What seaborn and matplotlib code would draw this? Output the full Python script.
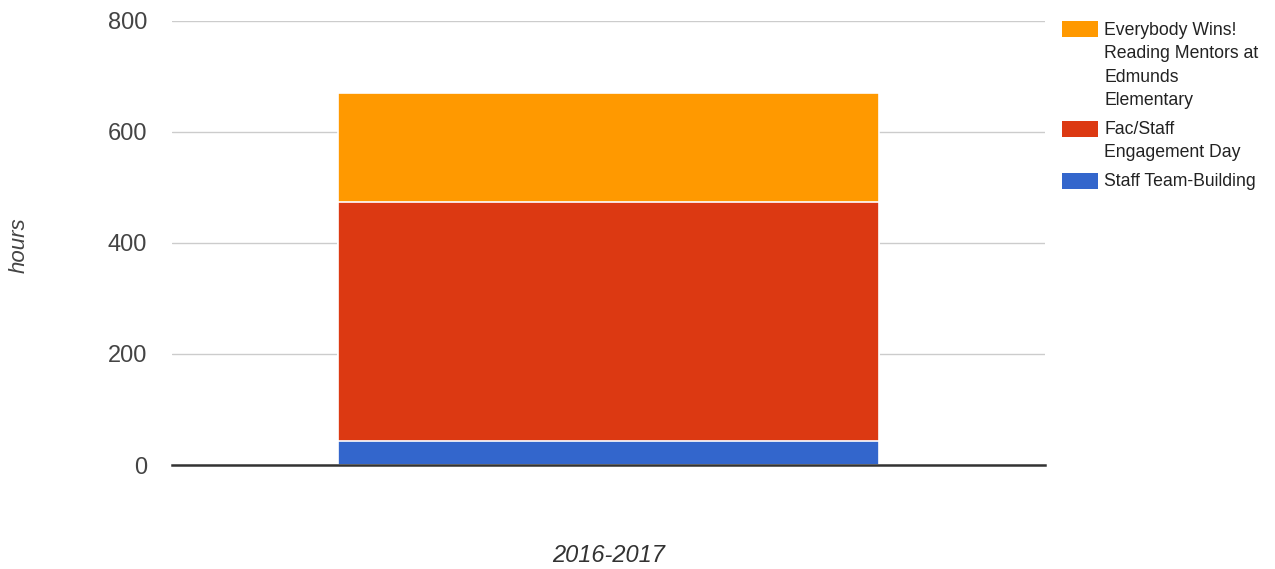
import matplotlib
matplotlib.use("Agg")
import matplotlib.pyplot as plt
from matplotlib.patches import Rectangle
import seaborn as sns
import pandas as pd
import numpy as np

# Volunteer hours by activity for one academic year
period = ["2016-2017"]
series = ["Staff Team-Building", "Fac/Staff Engagement Day",
          "Everybody Wins! Reading Mentors at Edmunds Elementary"]
hours = {
    "Staff Team-Building": [44],
    "Fac/Staff Engagement Day": [430],
    "Everybody Wins! Reading Mentors at Edmunds Elementary": [197],
}
colors = {
    "Staff Team-Building": "#3366CC",
    "Fac/Staff Engagement Day": "#DC3912",
    "Everybody Wins! Reading Mentors at Edmunds Elementary": "#FF9900",
}
legend_lines = {
    "Everybody Wins! Reading Mentors at Edmunds Elementary":
        ["Everybody Wins!", "Reading Mentors at", "Edmunds", "Elementary"],
    "Fac/Staff Engagement Day": ["Fac/Staff", "Engagement Day"],
    "Staff Team-Building": ["Staff Team-Building"],
}
y_ticks = [0, 200, 400, 600, 800]

sns.set_theme(style="white")
plt.rcParams["font.family"] = ["Liberation Sans", "DejaVu Sans"]

fig = plt.figure(figsize=(12.75, 5.69), dpi=100)
ax = fig.add_axes([172 / 1275, 1 - 465 / 569, (1045 - 172) / 1275, (465 - 21) / 569])

# Stacked bars: draw cumulative totals, tallest first
cum = np.cumsum([hours[s][0] for s in series])
for s, top in reversed(list(zip(series, cum))):
    df = pd.DataFrame({"period": period, "hours": [top]})
    sns.barplot(data=df, x="period", y="hours", color=colors[s], width=0.62,
                edgecolor="white", linewidth=1.2, saturation=1, ax=ax, zorder=3)

ax.set_ylim(0, 800)
ax.set_xlim(-0.5, 0.5)
ax.set_yticks(y_ticks)
ax.set_yticklabels([str(t) for t in y_ticks], fontsize=17, color="#444444")
ax.tick_params(axis="y", length=0, pad=18)
ax.set_xticks([])
ax.grid(axis="y", color="#cccccc", linewidth=1, zorder=0)
ax.set_axisbelow(True)
for side in ["left", "right", "top"]:
    ax.spines[side].set_visible(False)
ax.spines["bottom"].set_color("#333333")
ax.spines["bottom"].set_linewidth(1.8)
ax.spines["bottom"].set_zorder(5)

ax.set_ylabel("hours", fontsize=16, style="italic", color="#444444", labelpad=0)
ax.yaxis.set_label_coords((19 - 172) / 873, (465 - 245) / 444)
ax.yaxis.label.set_va("center")
ax.set_xlabel(period[0], fontsize=17, style="italic", color="#333333")
ax.xaxis.set_label_coords(0.5, -(555 - 465) / 444)
ax.xaxis.label.set_va("center")

# Legend drawn in figure pixel coordinates
W, H = 1275, 569
entries = [
    ("Everybody Wins! Reading Mentors at Edmunds Elementary", 21, 30.5),
    ("Fac/Staff Engagement Day", 121, 129),
    ("Staff Team-Building", 173, 182),
]
for s, box_top, text_y in entries:
    fig.patches.append(Rectangle((1062 / W, 1 - (box_top + 16) / H), 36 / W, 16 / H,
                                 transform=fig.transFigure, facecolor=colors[s],
                                 edgecolor="none"))
    for i, line in enumerate(legend_lines[s]):
        fig.text(1104 / W, 1 - (text_y + i * 23.3) / H, line, fontsize=12.7,
                 color="#222222", va="center", ha="left")

fig.savefig("out.png", dpi=100, facecolor="white")
